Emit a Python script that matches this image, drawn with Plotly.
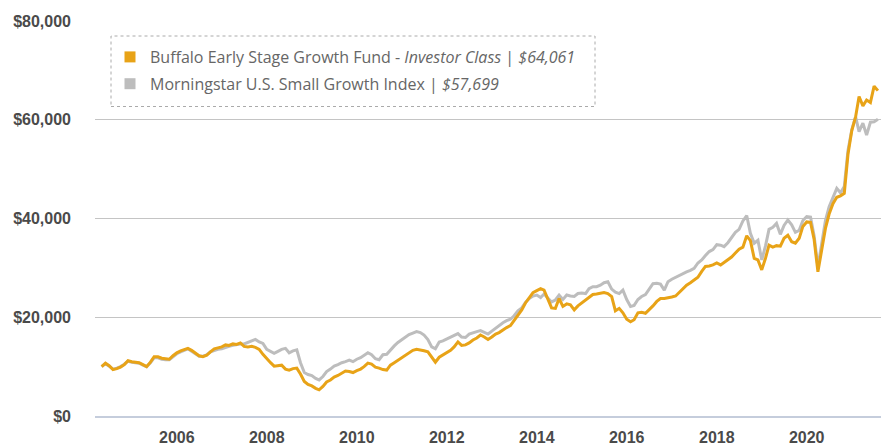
import pandas as pd
import plotly.graph_objects as go

# Monthly observations, May 2004 - Aug 2021 (hypothetical $10,000 investment), in $ thousands
start_month = "2004-05-01"
n_months = 208

fund_k = [
    10.0, 10.7, 10.2, 9.4, 9.6, 9.9, 10.4, 11.2, 11.0, 10.9, 10.8, 10.4,
    10.0, 10.9, 12.0, 12.0, 11.7, 11.6, 11.5, 12.2, 12.8, 13.2, 13.5, 13.7,
    13.3, 12.7, 12.2, 12.0, 12.3, 13.0, 13.6, 13.8, 14.0, 14.4, 14.3, 14.6,
    14.5, 14.8, 14.1, 14.0, 14.1, 13.9, 13.5, 12.5, 11.6, 10.8, 10.1, 10.2,
    10.3, 9.5, 9.3, 9.6, 9.7, 8.5, 7.0, 6.4, 6.1, 5.6, 5.3, 6.0,
    6.9, 7.3, 7.9, 8.2, 8.7, 9.1, 9.0, 8.8, 9.2, 9.5, 10.0, 10.7,
    10.5, 9.9, 9.7, 9.4, 9.3, 10.3, 10.8, 11.3, 11.7, 12.2, 12.8, 13.3,
    13.5, 13.4, 13.2, 13.0, 11.8, 10.9, 11.9, 12.4, 12.9, 13.3, 14.0, 15.0,
    14.3, 14.4, 14.8, 15.4, 15.8, 16.4, 16.0, 15.5, 16.0, 16.6, 16.9, 17.5,
    17.9, 18.3, 19.4, 20.6, 21.5, 22.9, 24.0, 25.0, 25.4, 25.8, 25.5, 23.5,
    21.9, 21.8, 23.8, 22.2, 22.7, 22.5, 21.5, 22.3, 22.9, 23.4, 24.0, 24.6,
    24.7, 24.8, 25.0, 24.8, 24.2, 21.3, 21.8, 20.9, 19.6, 19.1, 19.5, 20.9,
    21.0, 20.8, 21.5, 22.3, 23.2, 23.8, 23.8, 23.9, 24.1, 24.3, 25.0, 25.8,
    26.5, 27.0, 27.5, 28.1, 29.3, 30.3, 30.4, 30.6, 31.0, 30.6, 31.1, 31.6,
    32.2, 33.0, 33.8, 34.2, 36.5, 35.5, 31.9, 31.6, 29.6, 32.0, 34.6, 34.2,
    34.5, 34.4, 36.0, 36.6, 35.3, 35.0, 36.0, 38.4, 39.3, 39.2, 35.8, 29.2,
    33.8, 38.0, 40.9, 43.0, 44.3, 44.6, 45.1, 53.0, 57.8, 60.6, 64.7, 62.8,
    64.0, 63.5, 66.8, 65.9,
]

index_k = [
    10.0, 10.6, 10.1, 9.5, 9.7, 10.0, 10.5, 11.1, 10.9, 10.8, 10.7, 10.3,
    10.0, 10.8, 11.8, 11.8, 11.5, 11.4, 11.4, 12.0, 12.6, 13.0, 13.3, 13.6,
    13.1, 12.5, 12.1, 12.1, 12.4, 13.0, 13.3, 13.5, 13.6, 13.9, 14.1, 14.3,
    14.5, 14.6, 14.6, 14.9, 15.1, 15.5, 15.0, 14.7, 13.5, 13.0, 12.7, 13.1,
    13.5, 13.7, 12.8, 13.2, 13.4, 10.8, 8.8, 8.4, 8.2, 7.6, 7.3, 8.0,
    9.0, 9.5, 10.1, 10.4, 10.8, 11.0, 11.3, 11.0, 11.5, 11.8, 12.3, 12.8,
    12.4, 11.6, 11.4, 12.4, 12.5, 13.4, 14.2, 14.9, 15.5, 16.0, 16.5, 16.8,
    17.1, 16.9, 16.4, 15.5, 14.0, 13.6, 15.0, 15.2, 15.6, 15.9, 16.3, 16.7,
    16.0, 15.9, 16.6, 16.9, 17.1, 17.3, 16.9, 16.6, 17.2, 17.8, 18.4, 18.9,
    19.3, 19.6, 20.3, 21.3, 21.9, 23.0, 23.8, 24.3, 24.5, 24.0, 24.7, 23.9,
    23.1, 23.5, 24.5, 23.6, 24.5, 24.3, 24.2, 24.8, 24.9, 24.8, 25.8, 26.2,
    26.2, 26.5, 27.0, 27.2, 25.7, 25.1, 24.8, 25.5, 23.6, 22.2, 22.4, 23.6,
    24.2, 24.6, 25.6, 26.8, 26.9, 26.7, 25.5, 27.2, 27.7, 28.1, 28.5, 28.9,
    29.2, 29.5, 29.9, 31.0, 31.6, 32.5, 33.3, 33.7, 34.7, 34.6, 34.3, 35.1,
    36.2, 37.2, 37.8, 39.5, 40.6, 37.0, 35.0, 35.6, 31.6, 34.5, 37.8, 38.2,
    39.0, 36.8, 38.6, 39.7, 38.7, 37.2, 37.6, 39.6, 40.4, 40.3, 36.5, 30.2,
    34.8, 39.6, 42.4, 44.2, 46.1, 45.2, 46.5, 53.8, 58.0, 60.6, 57.6, 59.3,
    56.9, 59.5, 59.6, 60.1,
]

fund_name = "Buffalo Early Stage Growth Fund - <i>Investor Class</i> | <i>$64,061</i>"
index_name = "Morningstar U.S. Small Growth Index | <i>$57,699</i>"

year_ticks = ["2006", "2008", "2010", "2012", "2014", "2016", "2018", "2020"]
value_ticks = [0, 20000, 40000, 60000, 80000]

FUND_COLOR = "#E8A317"
INDEX_COLOR = "#BDBDBD"

dates = pd.date_range(start_month, periods=n_months, freq="MS")
fund = [v * 1000 for v in fund_k]
index = [v * 1000 for v in index_k]

fig = go.Figure()
fig.add_trace(go.Scatter(x=dates, y=index, mode="lines", showlegend=False,
                         line=dict(color=INDEX_COLOR, width=3), hoverinfo="skip"))
fig.add_trace(go.Scatter(x=dates, y=fund, mode="lines", showlegend=False,
                         line=dict(color=FUND_COLOR, width=3), hoverinfo="skip"))
# legend entries with square swatches
fig.add_trace(go.Scatter(x=[None], y=[None], mode="markers", name=fund_name, legendgroup="a",
                         marker=dict(symbol="square", size=11, color=FUND_COLOR)))
fig.add_trace(go.Scatter(x=[None], y=[None], mode="markers", name=index_name, legendgroup="b",
                         marker=dict(symbol="square", size=11, color=INDEX_COLOR)))

L, R, T, B = 95, 0, 21, 29
W, H = 881, 445
pw, ph = W - L - R, H - T - B

def px_x(p):
    return (p - L) / pw

def px_y(p):
    return (H - B - p) / ph

fig.update_layout(
    width=W, height=H,
    margin=dict(l=L, r=R, t=T, b=B, autoexpand=False),
    paper_bgcolor="white", plot_bgcolor="white",
    font=dict(family="Liberation Sans, Arial, sans-serif", color="#4a4a4a"),
    showlegend=True,
    legend=dict(
        x=px_x(110), y=px_y(40), xanchor="left", yanchor="top",
        bgcolor="rgba(0,0,0,0)", borderwidth=0,
        font=dict(family="Open Sans, sans-serif", size=16, color="#666666"),
        traceorder="grouped", tracegroupgap=3,
    ),
    xaxis=dict(
        type="date", automargin=False,
        range=["2004-03-08", "2021-08-26"],
        tickvals=[f"{y}-01-01" for y in year_ticks],
        ticktext=year_ticks,
        showgrid=False, zeroline=False,
        showline=True, linecolor="#C5CDDC", linewidth=2,
        ticks="", ticklabelstandoff=6,
        tickfont=dict(size=16, color="#4a4a4a", family="Liberation Sans, Arial, sans-serif", weight="bold"),
    ),
    yaxis=dict(
        range=[0, 80000], automargin=False,
        tickvals=value_ticks,
        ticktext=[f"${v:,}" for v in value_ticks],
        showgrid=True, gridcolor="#C4C4C4", gridwidth=1,
        zeroline=False, showline=False,
        ticks="", ticklabelstandoff=23,
        tickfont=dict(size=16, color="#4a4a4a", family="Liberation Sans, Arial, sans-serif", weight="bold"),
    ),
    shapes=[dict(
        type="rect", xref="paper", yref="paper",
        x0=px_x(111), x1=px_x(595), y0=px_y(106.5), y1=px_y(36),
        line=dict(color="#AAAAAA", width=1, dash="3px,3px"),
        fillcolor="rgba(0,0,0,0)", layer="above",
    )],
)

fig.write_html(
    "out.html",
    config={"displayModeBar": False},
    post_script="document.body.style.margin='0';document.body.style.overflow='hidden';",
)
